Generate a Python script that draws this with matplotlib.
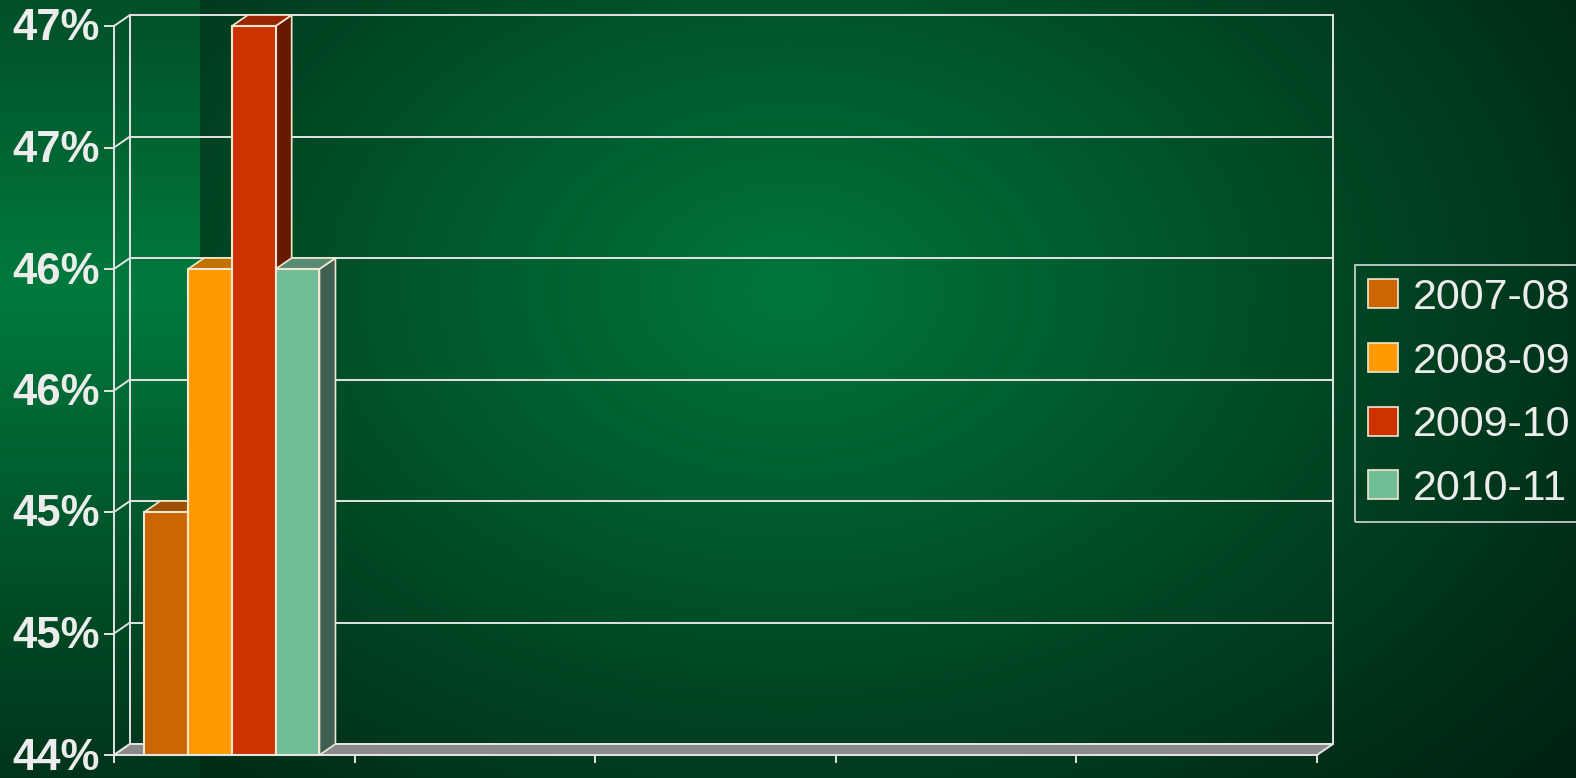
import numpy as np
import matplotlib
matplotlib.use("Agg")
import matplotlib.pyplot as plt
import matplotlib.transforms as mtransforms
from matplotlib.patches import Polygon, Patch

# data
series = ["2007-08", "2008-09", "2009-10", "2010-11"]
values = [45.0, 46.0, 47.0, 46.0]
n_categories = 5
yticks = [44.0, 44.5, 45.0, 45.5, 46.0, 46.5, 47.0]
ytick_labels = ["44%", "45%", "45%", "46%", "46%", "47%", "47%"]

front_colors = ["#cc6600", "#ff9900", "#cc3300", "#70bd97"]
side_colors = ["#8a4500", "#b06800", "#661a00", "#3d5e50"]
top_colors = ["#9c5000", "#c27200", "#992600", "#5a8a74"]
edge_col = "#f2e8d2"
line_col = "#e4e4e4"
text_col = "#ececec"

plt.rcParams['font.family'] = ['Liberation Sans', 'DejaVu Sans']

W, H, DPI = 1576, 778, 100
fig = plt.figure(figsize=(W / DPI, H / DPI), dpi=DPI)

#--------------------------------------------------------------#
# background: radial green glow plus the lighter strip on the left
yy, xx = np.mgrid[0:H, 0:W].astype(float)
dark = np.array([0, 30, 15]) / 255
bright = np.array([0, 118, 60]) / 255
d = np.sqrt(((xx - 790) / 1080) ** 2 + ((yy - 290) / 760) ** 2)
f = np.clip(1 - d, 0, 1) ** 1.05
img = dark + (bright - dark) * f[..., None]
strip = xx < 200
fs = np.clip(1 - np.abs(yy - 290) / 640, 0, 1) ** 1.1
strip_img = np.array([0, 34, 17]) / 255 + (np.array([0, 122, 62]) / 255 - np.array([0, 34, 17]) / 255) * fs[..., None]
img[strip] = strip_img[strip]

bg = fig.add_axes([0, 0, 1, 1], zorder=-1)
bg.imshow(img, aspect="auto", extent=(0, 1, 0, 1))
bg.axis("off")

#--------------------------------------------------------------#
# main axes = front plane of the 3d box
left, right, top, bottom = 114, 1317, 26, 755
ax = fig.add_axes([left / W, 1 - bottom / H, (right - left) / W, (bottom - top) / H])
ax.set_facecolor("none")
ymin, ymax = yticks[0], yticks[-1]
ax.set_xlim(0, n_categories)
ax.set_ylim(ymin, ymax)

# depth offset (pixels) converted to data units
dx = 16 / ((right - left) / n_categories)
dy = 11 / ((bottom - top) / (ymax - ymin))

lw = 1.4
# back wall grid lines and edges
for y in yticks:
    ax.plot([0 + dx, n_categories + dx], [y + dy, y + dy], color=line_col, lw=lw, clip_on=False, zorder=1)
    ax.plot([0, dx], [y, y + dy], color=line_col, lw=lw, clip_on=False, zorder=1)
ax.plot([dx, dx], [ymin + dy, ymax + dy], color=line_col, lw=lw, clip_on=False, zorder=1)
ax.plot([n_categories + dx] * 2, [ymin + dy, ymax + dy], color=line_col, lw=lw, clip_on=False, zorder=1)

# floor
floor = Polygon([[0, ymin], [n_categories, ymin], [n_categories + dx, ymin + dy], [dx, ymin + dy]],
                closed=True, facecolor="#8a8a8a", edgecolor=line_col, lw=lw, clip_on=False, zorder=2)
ax.add_patch(floor)

# bars
bar_w = 0.182
center = 0.49
for i, (name, v) in enumerate(zip(series, values)):
    x0 = center + (i - len(series) / 2) * bar_w
    x1 = x0 + bar_w
    z = 3 + i
    side = Polygon([[x1, ymin], [x1, v], [x1 + dx, v + dy], [x1 + dx, ymin + dy]],
                   facecolor=side_colors[i], edgecolor=edge_col, lw=1.2, clip_on=False, zorder=z)
    topf = Polygon([[x0, v], [x1, v], [x1 + dx, v + dy], [x0 + dx, v + dy]],
                   facecolor=top_colors[i], edgecolor=edge_col, lw=1.2, clip_on=False, zorder=z)
    ax.add_patch(side)
    ax.add_patch(topf)
    ax.bar(x0, v - ymin, bottom=ymin, width=bar_w, align="edge", color=front_colors[i],
           edgecolor=edge_col, lw=1.5, zorder=z + 0.5, clip_on=False)

# axes styling
for s in ["top", "right"]:
    ax.spines[s].set_visible(False)
for s in ["left", "bottom"]:
    ax.spines[s].set_color(line_col)
    ax.spines[s].set_linewidth(lw)
    ax.spines[s].set_zorder(10)
ax.set_yticks(yticks)
ax.set_yticklabels(ytick_labels)
ax.set_xticks(range(n_categories + 1))
ax.set_xticklabels([])
ax.tick_params(axis="y", direction="out", length=7, width=lw, color=line_col, pad=3,
               labelsize=31.5, labelcolor=text_col)
ax.tick_params(axis="x", direction="out", length=6, width=lw, color=line_col)
shift = mtransforms.ScaledTranslation(0, -3 / DPI, fig.dpi_scale_trans)
for t in ax.get_yticklabels():
    t.set_fontweight("bold")
    t.set_va("center")
    t.set_transform(t.get_transform() + shift)

# legend
handles = [Patch(facecolor=c, edgecolor=edge_col, lw=1.2) for c in front_colors]
leg = fig.legend(handles, series, loc="upper left", bbox_to_anchor=(1355 / W, 1 - 265 / H),
                 bbox_transform=fig.transFigure, borderaxespad=0, fontsize=31,
                 handlelength=0.7, handleheight=0.66, handletextpad=0.35,
                 labelspacing=0.55, borderpad=0.3, frameon=True, fancybox=False)
leg.get_frame().set_facecolor("none")
leg.get_frame().set_edgecolor(line_col)
leg.get_frame().set_linewidth(lw)
for t in leg.get_texts():
    t.set_color(text_col)

fig.savefig("out.png", dpi=DPI)
